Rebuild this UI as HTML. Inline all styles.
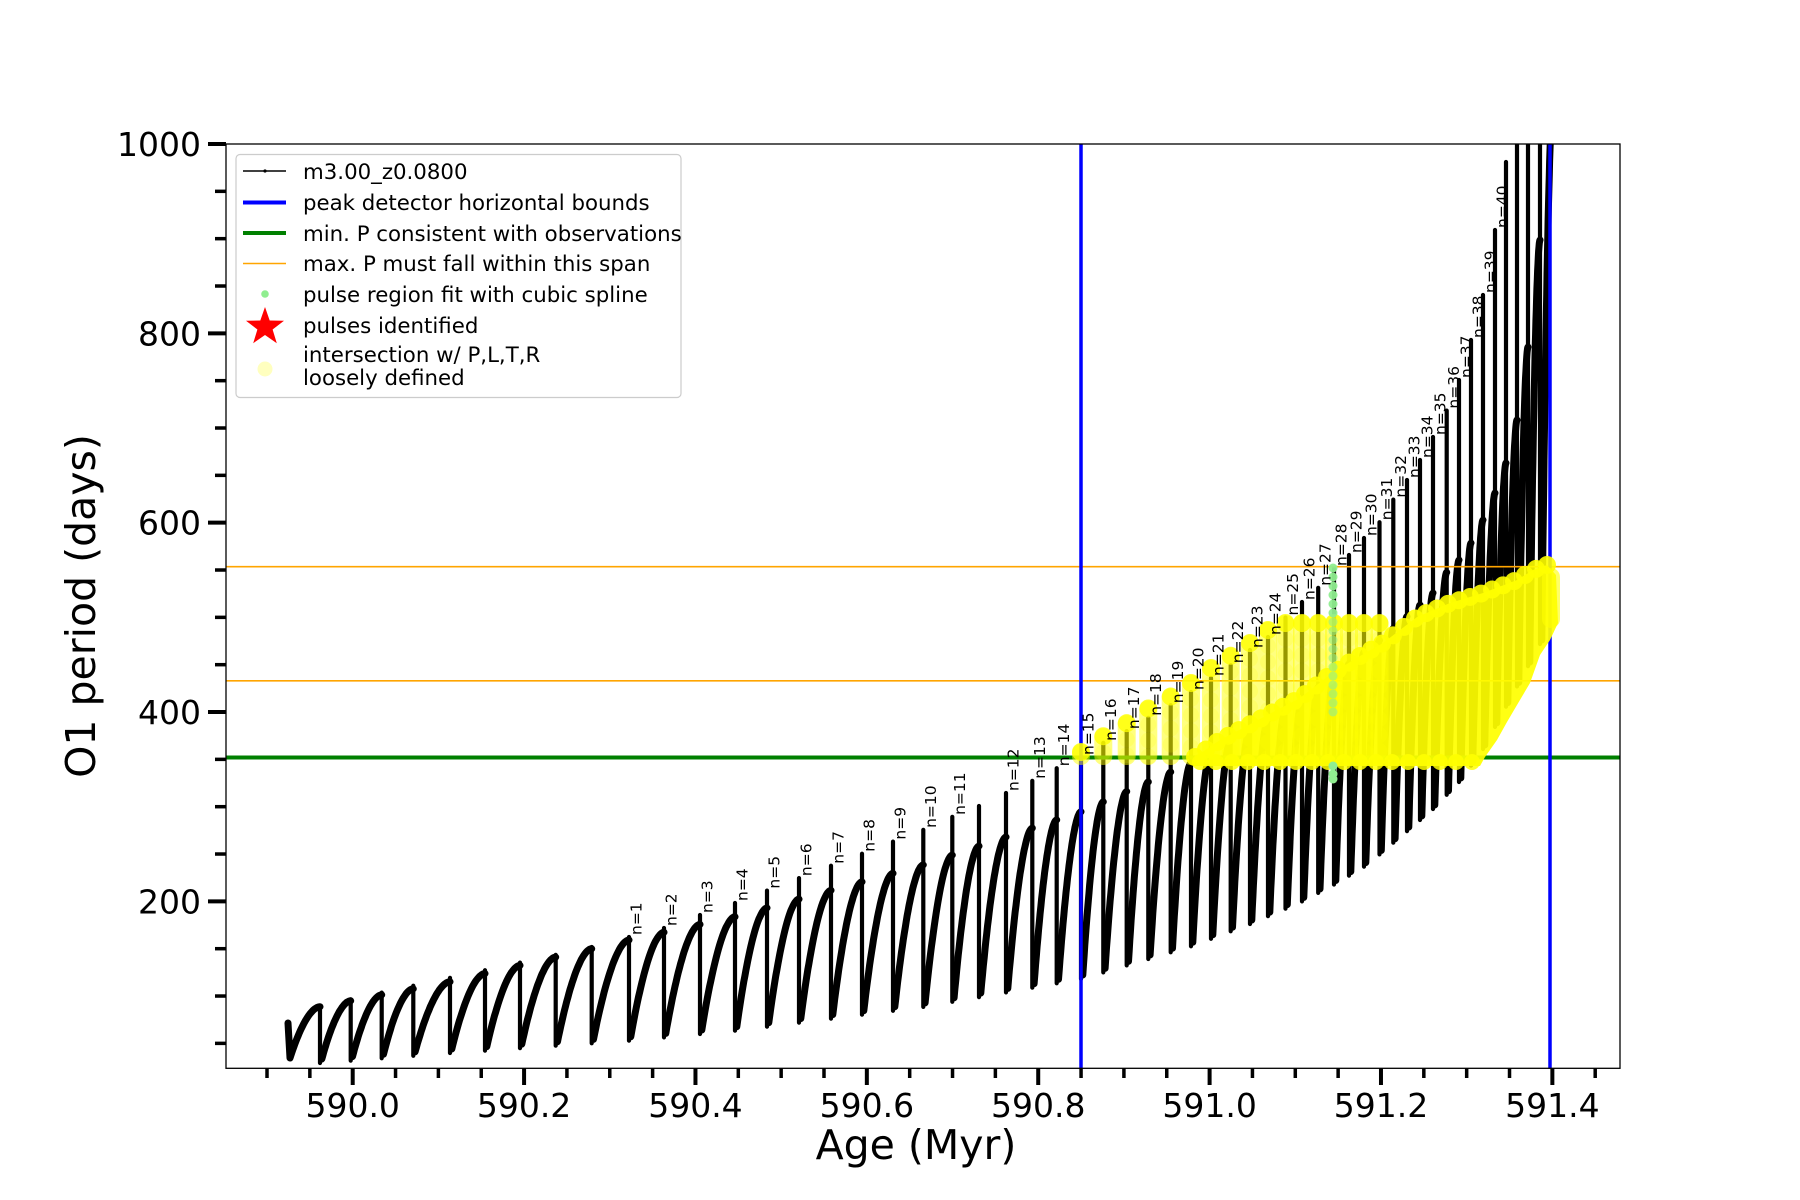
<!DOCTYPE html>
<html><head><meta charset="utf-8"><style>
html,body{margin:0;padding:0;background:#fff;}
svg{display:block;font-family:"DejaVu Sans","Liberation Sans",sans-serif;}
</style></head><body>
<svg id="s" xmlns="http://www.w3.org/2000/svg" width="1800" height="1200" viewBox="0 0 1800 1200">
<defs><clipPath id="ax"><rect x="226" y="144" width="1394" height="924"/></clipPath></defs>
<rect width="1800" height="1200" fill="#fff"/>
<g id="data" clip-path="url(#ax)"></g>
<g id="yel" clip-path="url(#ax)"></g>
<g id="lbl"></g>
<rect x="226" y="144" width="1394" height="924.3" fill="none" stroke="#000" stroke-width="1.3"/>
<g id="ticks"></g>
<text x="916" y="1159" font-size="41" text-anchor="middle">Age (Myr)</text>
<text transform="translate(95,606) rotate(-90)" font-size="41" text-anchor="middle">O1 period (days)</text>
<g>
<rect x="236" y="154.5" width="445" height="243" rx="4" fill="#fff" fill-opacity="0.8" stroke="#cccccc" stroke-width="1.2"/>
<line x1="243" y1="171" x2="286" y2="171" stroke="#000" stroke-width="1.5"/><circle cx="265" cy="171" r="1.6" fill="#000"/>
<line x1="243" y1="202.5" x2="286" y2="202.5" stroke="#0000ff" stroke-width="4"/>
<line x1="243" y1="233" x2="286" y2="233" stroke="#008000" stroke-width="4"/>
<line x1="243" y1="263.5" x2="286" y2="263.5" stroke="#ffa500" stroke-width="1.5"/>
<circle cx="265" cy="294" r="3.8" fill="#90ee90"/>
<polygon id="star" fill="#ff0000"/>
<circle cx="265" cy="369" r="7.5" fill="#ffff00" fill-opacity="0.25"/>
<g font-size="21.3" fill="#000">
<text x="303" y="179">m3.00_z0.0800</text>
<text x="303" y="210">peak detector horizontal bounds</text>
<text x="303" y="241">min. P consistent with observations</text>
<text x="303" y="271">max. P must fall within this span</text>
<text x="303" y="302">pulse region fit with cubic spline</text>
<text x="303" y="333">pulses identified</text>
<text x="303" y="362">intersection w/ P,L,T,R</text>
<text x="303" y="385">loosely defined</text>
</g>
</g>
</svg>
<script>
(function(){
var NS="http://www.w3.org/2000/svg";
function el(p,t,a,txt){var e=document.createElementNS(NS,t);for(var k in a)e.setAttribute(k,a[k]);if(txt!=null)e.textContent=txt;p.appendChild(e);return e;}
function interp(P,x){if(x<=P[0][0])return P[0][1];for(var i=1;i<P.length;i++){if(x<=P[i][0]){var a=P[i-1],b=P[i];return a[1]+(b[1]-a[1])*(x-a[0])/(b[0]-a[0]);}}return P[P.length-1][1];}
var Y=function(v){return 144+(1000-v)*0.9467;};
var X=function(a){return 352.7+(a-590)*856.9;};
var st=[],cx=265,cy=327,R=20,r=8;for(var i=0;i<10;i++){var ang=-Math.PI/2+i*Math.PI/5,rr=i%2?r:R;st.push((cx+rr*Math.cos(ang)).toFixed(1)+","+(cy+rr*Math.sin(ang)).toFixed(1));}
document.getElementById("star").setAttribute("points",st.join(" "));
var tg=document.getElementById("ticks");
for(var v=50;v<=1000;v+=50){var y=Y(v),maj=(v%200==0);
 el(tg,"line",{x1:maj?208:215,x2:226,y1:y,y2:y,stroke:"#000","stroke-width":maj?4:3.5});
 if(maj)el(tg,"text",{x:201,y:y+12,"font-size":33,"text-anchor":"end"},String(v));}
for(var k=0;k<=31;k++){var a=589.9+k*0.05;var x=X(a);if(x<226||x>1620)continue;var m=Math.abs((a-590)/0.2-Math.round((a-590)/0.2))<1e-6;
 el(tg,"line",{x1:x,x2:x,y1:1068,y2:m?1085:1078,stroke:"#000","stroke-width":m?4:3.5});
 if(m)el(tg,"text",{x:x,y:1117,"font-size":33,"text-anchor":"middle"},a.toFixed(1));}
var D=[320,350.7,381.7,413.3,450,485,520,555.7,591.7,629,664,700,735,767,799,831,862,893,923.3,952.3,979,1006,1032.3,1056.7,1081,1103.3,1126.7,1148.3,1170.7,1191,1211,1230.7,1250,1268,1285.5,1302,1318.2,1334,1349,1364,1379.5,1393.3,1407,1420,1433,1446.7,1459,1471,1483,1495,1506,1517,1528,1540];
var PK=[[320,1006.7],[450,981.7],[629,940],[735,916.7],[923,865],[1081,811.7],[1191,763],[1302,700],[1380,640],[1420,605],[1433,593],[1446,573],[1459,560],[1471,543],[1483,520],[1495,493],[1506,463],[1517,420],[1528,347],[1540,240],[1552,100]];
var MN=[[320,1059],[450,1049],[629,1036.7],[735,1026.7],[923,1003],[1008,988],[1081,975],[1193,941.7],[1250,920],[1303,897],[1335,880],[1365,862],[1380,850],[1433,805],[1460,777],[1483,745],[1540,640]];
var TP=[[320,1006],[591.7,947],[629,937],[664,928],[700,915],[735,903],[923,830],[952,817],[979,806],[1006,793],[1032,781],[1057,768],[1081,757],[1103,743],[1127,731],[1148,718],[1171,705],[1191,692],[1211,678],[1231,665],[1250,650],[1268,637],[1285,618],[1302,602],[1318,588],[1334,568],[1349,555],[1364,538],[1379,523],[1393,500],[1407,480],[1420,460],[1433,437],[1447,410],[1459,380],[1471,340],[1483,295],[1495,230],[1506,162],[1517,100],[1550,40]];
var dg=document.getElementById("data");
var curve="M288,1023 L290,1058 ",spk="";
var xs=290,ys=1058;
for(var i=0;i<=D.length;i++){
 var xe=(i<D.length)?D[i]:1553, pe=interp(PK,xe);
 var N=30;
 for(var j=1;j<=N;j++){var t=j/N;var x=xs+(xe-xs)*t;var y=ys-(ys-pe)*(1-Math.pow(1-t,1.8));curve+="L"+x.toFixed(1)+","+y.toFixed(1)+" ";}
 if(i<D.length){var tp=Math.min(interp(TP,xe),pe);var mn=interp(MN,xe);
  spk+="M"+xe+","+tp.toFixed(1)+" L"+xe+","+(mn+4).toFixed(1)+" ";
  xs=xe+1.8;ys=mn;curve+="M"+xs.toFixed(1)+","+ys.toFixed(1)+" ";}
}
el(dg,"path",{d:spk,stroke:"#000","stroke-width":4.2,fill:"none","stroke-linecap":"round"});
el(dg,"path",{d:curve,stroke:"#000","stroke-width":7,fill:"none","stroke-linejoin":"round","stroke-linecap":"round"});
el(dg,"line",{x1:226,x2:1620,y1:Y(553.5),y2:Y(553.5),stroke:"#ffa500","stroke-width":1.6});
el(dg,"line",{x1:226,x2:1620,y1:Y(433),y2:Y(433),stroke:"#ffa500","stroke-width":1.6});
el(dg,"line",{x1:226,x2:1620,y1:757.5,y2:757.5,stroke:"#008000","stroke-width":4});
el(dg,"line",{x1:1081,x2:1081,y1:144,y2:1068,stroke:"#0000ff","stroke-width":3.5});
el(dg,"line",{x1:1550,x2:1550,y1:144,y2:1068,stroke:"#0000ff","stroke-width":3.5});
var yg=document.getElementById("yel");
var CT=[[1081,752],[1105,735],[1127,723],[1149,708],[1170,697],[1191,683],[1211,668],[1232,655],[1250,643],[1268,630],[1285,623],[1380,623]];
for(var i=24;i<=40;i++){var x=D[i],top=interp(CT,x);
 el(yg,"rect",{x:x-9,y:top-8,width:18,height:765-top+8,rx:9,fill:"#ffff00","fill-opacity":0.5});
 for(var yy=top+16;yy<760;yy+=16){el(yg,"circle",{cx:x,cy:yy,r:8,fill:"#ffff00","fill-opacity":0.18});}
 el(yg,"circle",{cx:x,cy:top,r:9,fill:"#ffff00","fill-opacity":0.8});}
var TB=[[1195,757],[1220,740],[1243,728],[1273,712],[1300,698],[1327,677],[1353,660],[1383,643],[1417,617],[1450,603],[1483,593],[1517,580],[1533,570],[1547,565]];
var pts=[];TB.forEach(function(p){pts.push(p[0]+","+p[1]);});
pts=pts.concat(["1556,575","1558,623","1550,640","1540,655","1530,683","1517,705","1507,722","1497,740","1485,757","1480,766","1195,766"]);
el(yg,"polygon",{points:pts.join(" "),fill:"#ffff00","fill-opacity":0.93});
for(var x=1195;x<=1548;x+=11){el(yg,"circle",{cx:x,cy:interp(TB,x),r:9,fill:"#ffff00","fill-opacity":0.9});}
for(var x=1200;x<=1480;x+=16){el(yg,"circle",{cx:x,cy:762,r:8,fill:"#ffff00","fill-opacity":0.85});}
el(yg,"rect",{x:1542,y:568,width:18,height:60,rx:9,fill:"#ffff00","fill-opacity":0.6});
for(var y=568;y<=720;y+=9){el(yg,"circle",{cx:1333,cy:y,r:4.5,fill:"#90ee90","fill-opacity":(y<620?0.95:0.6)});}
[766,774,779].forEach(function(y){el(yg,"circle",{cx:1333,cy:y,r:4.5,fill:"#90ee90"});});
var lg=document.getElementById("lbl");
for(var n=1;n<=40;n++){var idx=(n<=11)?n+8:n+9;var x=D[idx];var tp=Math.min(interp(TP,x),interp(PK,x))-2;
 el(lg,"text",{transform:"translate("+(x+12.5).toFixed(1)+","+tp.toFixed(1)+") rotate(-90)","font-size":15.5,fill:"#000"},"n="+n);}
})();
</script>
</body></html>
